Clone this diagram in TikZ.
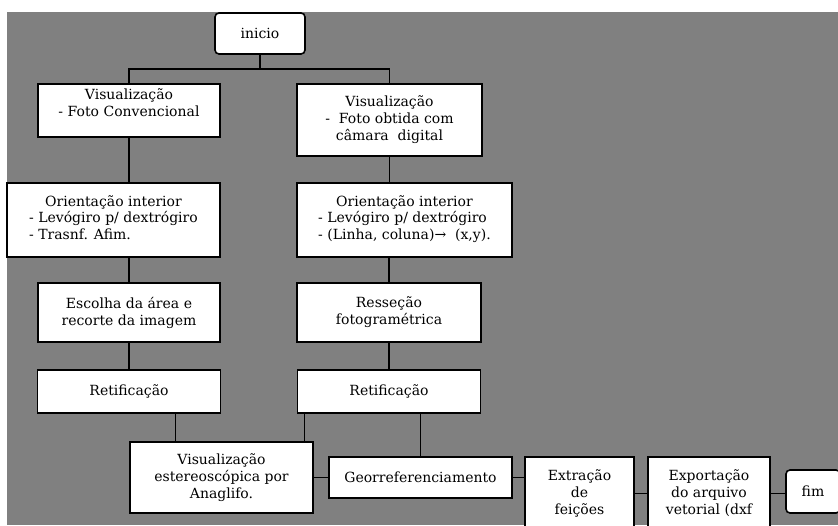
\documentclass[tikz,border=0pt]{standalone}
\usepackage{fontspec}
\setmainfont{DejaVu Serif}
\usepackage{tikz}
\usetikzlibrary{calc}
\definecolor{bggray}{RGB}{128,128,128}
\newcommand{\boxfont}{\fontsize{14}{17}\selectfont}
\newcommand{\leftlines}[1]{\begin{tabular}{@{}l@{}}#1\end{tabular}}
\tikzstyle{box}=[draw,fill=white,line width=1.6pt,align=center,inner sep=0pt,font=\boxfont]
\tikzstyle{terminal} = [box, rounded corners=4pt]
\tikzstyle{edge} = [draw,line width=1.6pt,-]

\begin{document}
\begin{tikzpicture}[x=1pt,y=-1pt]
    % Page and grey background
    \useasboundingbox (0,0) rectangle (838,525);
    \clip (0,0) rectangle (838,525);
    \fill[bggray] (7,12) rectangle (838,525);

    % First we draw the boxes
    \node[terminal,minimum width=90pt,minimum height=41pt] (inicio) at (260,33.5) {inicio};
    \node[box,minimum width=182pt,minimum height=53pt] (vis1) at (129,110.5)
        {Visualização\\ - Foto Convencional\\[-6pt]\strut};
    \node[box,minimum width=185pt,minimum height=72pt] (vis2) at (389.5,120)
        {Visualização\\ -~~Foto obtida com\\câmara~~digital};
    \node[box,minimum width=213pt,minimum height=74pt] (ori1) at (113.5,220)
        {Orientação interior\\\leftlines{- Levógiro p/ dextrógiro\\- Trasnf. Afim.}};
    \node[box,minimum width=215pt,minimum height=74pt] (ori2) at (404.5,220)
        {Orientação interior\\\leftlines{- Levógiro p/ dextrógiro\\- (Linha, coluna)→~~(x,y).}};
    \node[box,minimum width=182pt,minimum height=59pt] (esc) at (129,312.5)
        {Escolha da área e\\recorte da imagem};
    \node[box,minimum width=184pt,minimum height=59pt] (res) at (389,312.5)
        {Resseção\\fotogramétrica};
    \foreach \pos/\name in {{(129,391.5)/ret1},{(389,391.5)/ret2}}
        \node[box,minimum width=183pt,minimum height=43pt] (\name) at \pos {Retificação};
    \node[box,minimum width=183pt,minimum height=71pt] (est) at (221.5,477.5)
        {Visualização\\estereoscópica por\\Anaglifo.};
    \node[box,minimum width=183pt,minimum height=41pt] (geo) at (420.5,477.5)
        {Georreferenciamento};
    \node[box,minimum width=109pt,minimum height=73pt] (ext) at (579.5,493.5)
        {Extração\\de\\feições};
    \node[box,minimum width=122pt,minimum height=73pt] (exp) at (709,493.5)
        {Exportação\\do arquivo\\vetorial (dxf};
    \node[terminal,minimum width=54pt,minimum height=43pt] (fim) at (813,491.5) {fim};

    % Connect boxes with edges
    \coordinate (split) at (260,69);
    \path[edge] (inicio) -- (split);
    \path[edge] (split) -| (vis1.north);
    \path[edge] (split) -| (vis2.north);
    \foreach \source/ \dest in {vis1/ori1,vis2/ori2}
        \path[edge] (\source.south) -- (\source.south |- \dest.north);
    \foreach \source/ \dest in {ori1/esc,esc/ret1,ori2/res,res/ret2,ret2/geo}
        \path[edge] (\dest.north) -- (\dest.north |- \source.south);
    \path[edge] ($(est.north west)!0.25!(est.north east)$) -- ++(0,-29);
    \path[edge] ($(est.north west)!0.95!(est.north east)$) -- ++(0,-29);
    \path[edge] (est.east) -- (geo.west);
    \path[edge] (geo.east) -- (geo.east -| ext.west);
    \path[edge] (ext.east) -- (exp.west);
    \path[edge] (exp.east) -- (exp.east -| fim.west);

\end{tikzpicture}
\end{document}
